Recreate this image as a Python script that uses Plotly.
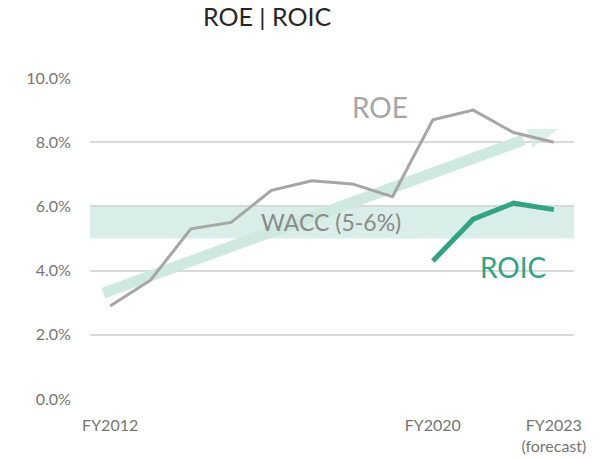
import plotly.graph_objects as go

# fiscal years and ratios (%)
years = [2012, 2013, 2014, 2015, 2016, 2017, 2018, 2019, 2020, 2021, 2022, 2023]
roe = [2.9, 3.7, 5.3, 5.5, 6.5, 6.8, 6.7, 6.3, 8.7, 9.0, 8.3, 8.0]
roic_years = [2020, 2021, 2022, 2023]
roic = [4.3, 5.6, 6.1, 5.9]

wacc_low, wacc_high = 5.0, 6.0

# trend arrow (start, end of shaft, tip)
trend_x = [2011.83, 2022.25, 2023.12]
trend_y = [3.3, 8.07, 8.41]

tick_years = [2012, 2020, 2023]
tick_text = ["FY2012", "FY2020", "FY2023<br>(forecast)"]

font = "Lato"
arrow_color = "#cde9e0"

fig = go.Figure()

# WACC band
fig.add_hrect(y0=wacc_low, y1=wacc_high, fillcolor="#d9eee8", line_width=0, layer="below")

# trend arrow shaft + head
fig.add_trace(go.Scatter(x=trend_x[:2], y=trend_y[:2], mode="lines",
                         line=dict(color=arrow_color, width=11),
                         hoverinfo="skip", showlegend=False))
fig.add_trace(go.Scatter(x=trend_x[1:], y=trend_y[1:], mode="markers",
                         marker=dict(symbol="arrow", size=[0, 32], color=arrow_color,
                                     angleref="previous", line=dict(width=0)),
                         hoverinfo="skip", showlegend=False))

fig.add_trace(go.Scatter(x=years, y=roe, mode="lines", name="ROE",
                         line=dict(color="#a6a6a6", width=3), showlegend=False))
fig.add_trace(go.Scatter(x=roic_years, y=roic, mode="lines", name="ROIC",
                         line=dict(color="#2fa583", width=5), showlegend=False))

fig.add_annotation(x=2018.7, y=9.1, text="ROE", showarrow=False,
                   font=dict(family=font, size=28, color="#a6a6a6"))
fig.add_annotation(x=2022.0, y=4.11, text="ROIC", showarrow=False,
                   font=dict(family=font, size=28, color="#2fa583"))
fig.add_annotation(x=2017.48, y=5.51, text="WACC (5-6%)", showarrow=False,
                   font=dict(family=font, size=23, color="#8a8a8a"))

# page body adds an 8px margin, so the figure is 8px smaller on each side
fig.update_layout(
    width=593, height=451,
    margin=dict(l=82, r=27, t=70, b=60),
    paper_bgcolor="white", plot_bgcolor="white",
    title=dict(text="ROE | ROIC", x=259 / 593, xref="container", xanchor="center",
               y=1, yref="container", yanchor="top", pad=dict(t=0),
               font=dict(family=font, size=25, color="#262626")),
    font=dict(family=font, color="#757575"),
)

fig.update_xaxes(range=[2011.5, 2023.5], tickvals=tick_years, ticktext=tick_text,
                 showgrid=False, zeroline=False, showline=False, automargin=False,
                 ticks="outside", ticklen=0, ticklabelstandoff=12,
                 tickfont=dict(family=font, size=16, color="#757575"))
fig.update_yaxes(range=[0, 10], dtick=2, tickformat=".1f", ticksuffix="%",
                 showgrid=True, gridcolor="#d9d9d9", gridwidth=1.5,
                 zeroline=False, showline=False, automargin=False,
                 ticks="outside", ticklen=0, ticklabelstandoff=15,
                 tickfont=dict(family=font, size=16, color="#757575"))

fig.write_html("out.html")
